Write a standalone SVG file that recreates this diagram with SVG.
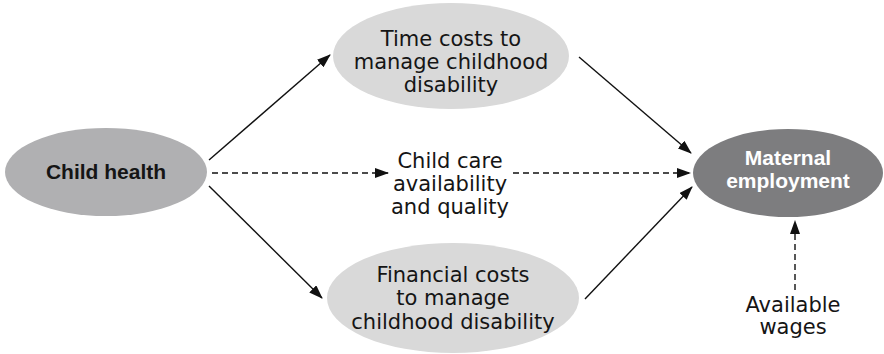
<svg xmlns="http://www.w3.org/2000/svg" width="884" height="354" viewBox="0 0 884 354">
<style>
.t{font-family:"DejaVu Sans","Liberation Sans",sans-serif;font-size:21px;fill:#151515;text-anchor:middle}
.b{font-family:"Liberation Sans",Arial,sans-serif;font-weight:bold;font-size:21px}
.w{fill:#fff}
.c{stroke:#111;stroke-width:1.4;fill:none}
.d{stroke-dasharray:6,4}
</style>
<defs>
<marker id="ah" markerWidth="14" markerHeight="10" refX="13" refY="5" orient="auto" markerUnits="userSpaceOnUse">
<path d="M0,0 L14,5 L0,10 Z" fill="#111"/>
</marker>
</defs>
<rect width="884" height="354" fill="#fff"/>
<g id="connectors">
<line class="c" x1="209" y1="160" x2="330" y2="55" marker-end="url(#ah)"/>
<line class="c" x1="209" y1="186" x2="322" y2="298" marker-end="url(#ah)"/>
<line class="c d" x1="212" y1="173" x2="388" y2="173" marker-end="url(#ah)"/>
<line class="c d" x1="513" y1="173" x2="690" y2="173" marker-end="url(#ah)"/>
<line class="c" x1="579" y1="57" x2="691" y2="153" marker-end="url(#ah)"/>
<line class="c" x1="585" y1="299" x2="692" y2="187" marker-end="url(#ah)"/>
<line class="c d" x1="795" y1="290" x2="795" y2="221" marker-end="url(#ah)"/>
</g>
<g id="child-health">
<ellipse cx="106" cy="172" rx="101" ry="44" fill="#b0b0b2"/>
<text class="t b" x="106" y="179">Child health</text>
</g>
<g id="time-costs">
<ellipse cx="451" cy="56" rx="118" ry="53" fill="#d9d9d9"/>
<text class="t" x="451" y="46">Time costs to</text>
<text class="t" x="451" y="69">manage childhood</text>
<text class="t" x="451" y="92">disability</text>
</g>
<g id="child-care">
<text class="t" x="450" y="168">Child care</text>
<text class="t" x="450" y="191">availability</text>
<text class="t" x="450" y="214">and quality</text>
</g>
<g id="financial-costs">
<ellipse cx="453" cy="298" rx="126" ry="55" fill="#d9d9d9"/>
<text class="t" x="453" y="282">Financial costs</text>
<text class="t" x="453" y="305">to manage</text>
<text class="t" x="453" y="329">childhood disability</text>
</g>
<g id="maternal-employment">
<ellipse cx="788" cy="173" rx="95" ry="44" fill="#7d7d7f"/>
<text class="t b w" x="788" y="165">Maternal</text>
<text class="t b w" x="788" y="188">employment</text>
</g>
<g id="available-wages">
<text class="t" x="793" y="312">Available</text>
<text class="t" x="793" y="334">wages</text>
</g>
</svg>
